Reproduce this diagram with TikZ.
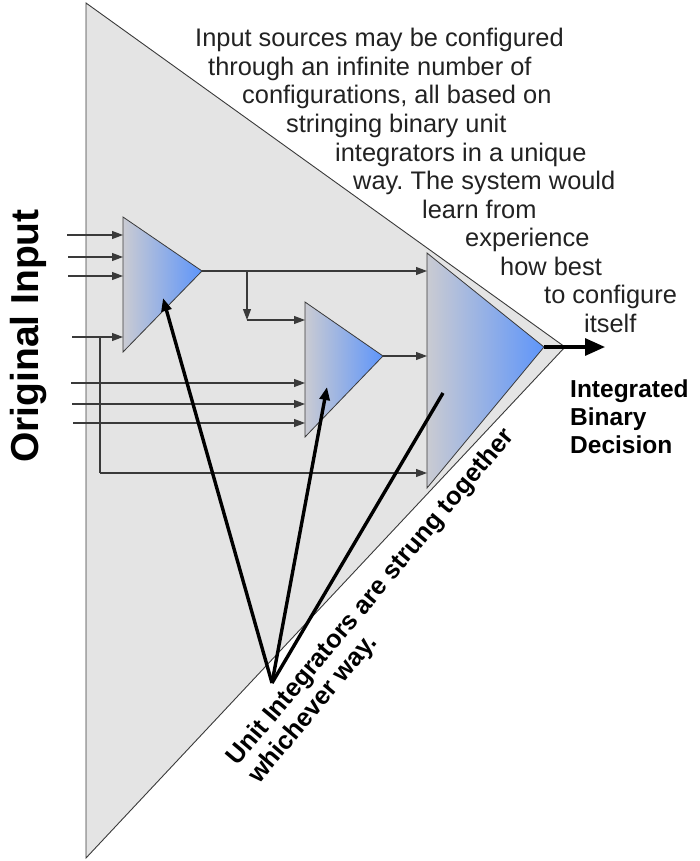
\documentclass[tikz,border=0pt]{standalone}
\usepackage{fontspec}
\setmainfont{Liberation Sans}
\frenchspacing
\usetikzlibrary{arrows.meta}

\definecolor{panelgray}{HTML}{E4E4E4}
\definecolor{edgegray}{HTML}{3A3A3A}
\definecolor{intleft}{HTML}{CACBD2}
\definecolor{intright}{HTML}{5E95FA}
\definecolor{textgray}{HTML}{222222}

\tikzset{
  wire/.style={draw=edgegray, line width=1.1pt},
  feed/.style={wire, -{Triangle[length=11pt,width=8pt]}},
  pointer/.style={line width=3.4pt, -{Triangle[length=13pt,width=10pt]}},
  integrator/.style={draw=edgegray, line width=0.8pt, left color=intleft, right color=intright},
  note/.style={font=\fontsize{25.4}{28}\selectfont, text=textgray, anchor=base west, inner sep=0pt},
  caption/.style={font=\bfseries\fontsize{24.5}{28}\selectfont, anchor=base west, inner sep=0pt},
}

\begin{document}
\begin{tikzpicture}[x=1pt, y=-1pt]
    \useasboundingbox (0,0) rectangle (699,861);

    % the whole system
    \draw[draw=edgegray, fill=panelgray, line width=0.9pt] (86,3) -- (565,347) -- (86,858) -- cycle;

    % unit integrators
    \coordinate (i1top) at (123,217); \coordinate (i1out) at (202,271); \coordinate (i1bot) at (123,352);
    \coordinate (i2top) at (305,302); \coordinate (i2out) at (383,356); \coordinate (i2bot) at (305,437);
    \coordinate (i3top) at (427,253); \coordinate (i3out) at (544,347); \coordinate (i3bot) at (427,488);
    \path[integrator] (i1top) -- (i1out) -- (i1bot) -- cycle;
    \path[integrator] (i2top) -- (i2out) -- (i2bot) -- cycle;
    \path[integrator] (i3top) -- (i3out) -- (i3bot) -- cycle;

    % original inputs
    \coordinate (a1) at (67,235);  \coordinate (a2) at (68,257);
    \coordinate (a3) at (68,276);  \coordinate (a4) at (72,337);
    \coordinate (b1) at (71,383);  \coordinate (b2) at (72,404);
    \coordinate (b3) at (73,423);
    \foreach \p in {a1,a2,a3,a4} \draw[feed] (\p) -- (\p -| i1top);
    \foreach \p in {b1,b2,b3} \draw[feed] (\p) -- (\p -| i2top);

    % stringing
    \coordinate (tap) at (100,337);
    \coordinate (low) at (100,473);
    \draw[wire] (tap) -- (low);
    \draw[feed] (low) -- (low -| i3top);
    \draw[feed] (i1out) -- (i1out -| i3top);
    \coordinate (split) at (247,271);
    \coordinate (drop) at (247,320);
    \draw[feed] (split) -- (drop);
    \draw[feed] (drop) -- (drop -| i2top);
    \draw[feed] (i2out) -- (i2out -| i3top);

    % decision
    \coordinate (dec) at (605,347);
    \draw[line width=3.2pt, -{Triangle[length=20pt,width=17pt]}] (i3out) -- (dec);

    % labels
    \node[font=\bfseries\fontsize{39}{40}\selectfont, rotate=90] (orig) at (29,336) {Original Input};
    \node[caption] (idec1) at (570,397) {Integrated};
    \node[caption] (idec2) at (570,425) {Binary};
    \node[caption] (idec3) at (570,453) {Decision};

    \node[note] (n1)  at (195,47)    {Input sources may be configured};
    \node[note] (n2)  at (208,75.5)  {through an infinite number of};
    \node[note] (n3)  at (242,104)   {configurations, all based on};
    \node[note] (n4)  at (286,132.5) {stringing binary unit};
    \node[note] (n5)  at (335,161)   {integrators in a unique};
    \node[note] (n6)  at (353,189.5) {way. The system would};
    \node[note] (n7)  at (422,218)   {learn from};
    \node[note] (n8)  at (465,246.5) {experience};
    \node[note] (n9)  at (500,275)   {how best};
    \node[note] (n10) at (544,303.5) {to configure};
    \node[note] (n11) at (584,332)   {itself};

    \node[caption, font=\bfseries\fontsize{25.5}{28}\selectfont, align=left, rotate=50]
        (strung) at (259,785) {Unit Integrators are strung together\\whichever way.};

    % pointers
    \coordinate (hub) at (272,683);
    \coordinate (p1) at (163,298);
    \coordinate (p2) at (327,387);
    \coordinate (p3) at (443,393);
    \draw[pointer] (hub) -- (p1);
    \draw[pointer] (hub) -- (p2);
    \draw[line width=3.4pt] (hub) -- (p3);
\end{tikzpicture}
\end{document}
